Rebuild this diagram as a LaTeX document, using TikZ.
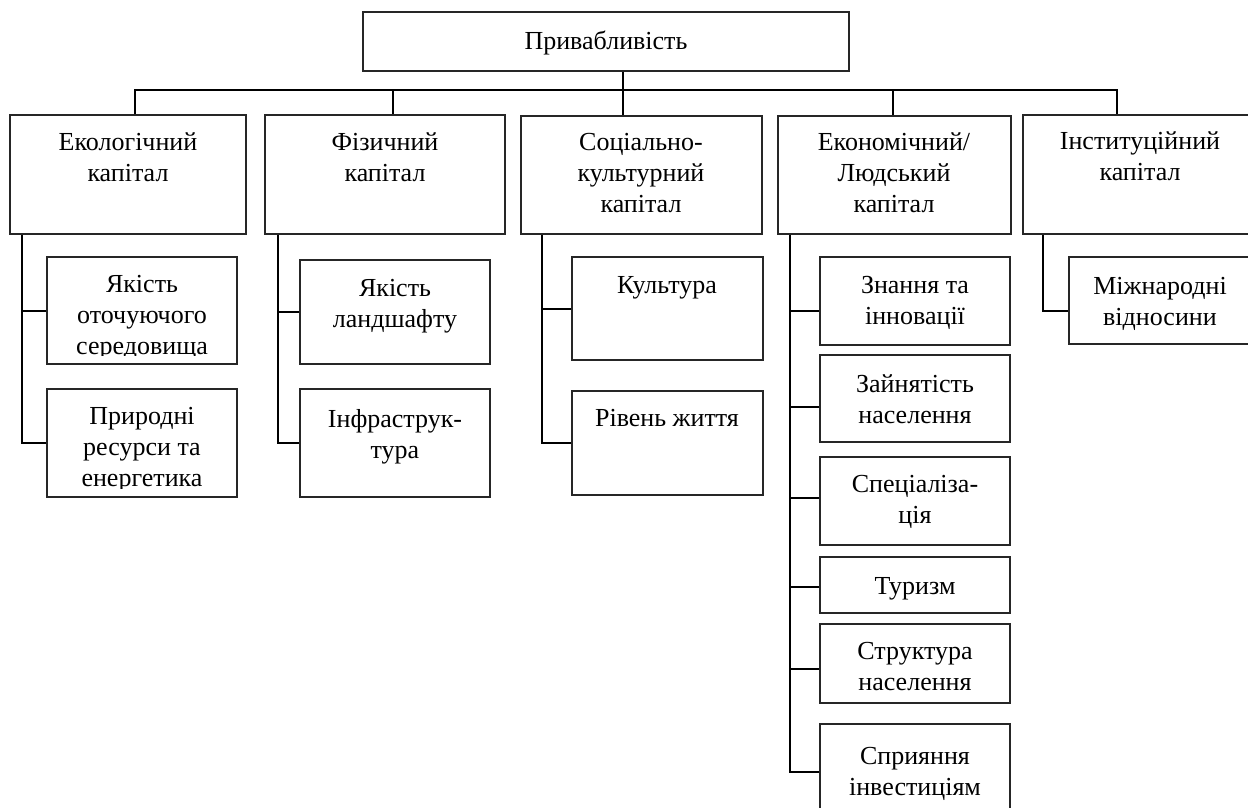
\documentclass[tikz,border=0pt]{standalone}
\usepackage{fontspec}
\setmainfont{Liberation Serif}
\usetikzlibrary{fit,calc}
\newcommand\fs{\rule{0pt}{20pt}}
\begin{document}
\begin{tikzpicture}[x=1pt,y=-1pt,
  box/.style={draw=black!85, line width=1.3pt, inner sep=0pt},
  conn/.style={draw=black, line width=2pt},
  lbl/.style={align=center, inner sep=0pt, anchor=north, font=\fontsize{26}{31}\selectfont}]
\useasboundingbox (0,0) rectangle (1248,808);
% top
\node[box, fit={(363,12) (849,71)}] (top) {};
\node[lbl] (topT) at (606,29) {\fs Привабливість};
% level 1
\node[box, fit={(10,115) (246,234)}] (eco) {};
\node[box, fit={(265,115) (505,234)}] (phys) {};
\node[box, fit={(521,116) (762,234)}] (soc) {};
\node[box, fit={(778,116) (1011,234)}] (econ) {};
\node[box, fit={(1023,115) (1258,234)}] (inst) {};
\node[lbl] (ecoT) at (128,130) {\fs Екологічний\\капітал};
\node[lbl] (physT) at (385,130) {\fs Фізичний\\капітал};
\node[lbl] (socT) at (641,130) {\fs Соціально-\\культурний\\капітал};
\node[lbl] (econT) at (894,130) {\fs Економічний/\\Людський\\капітал};
\node[lbl] (instT) at (1140,129) {\fs Інституційний\\капітал};
% bus
\coordinate (dEco) at (135,90);
\coordinate (dPhys) at (393,90);
\coordinate (dTop) at (623,90);
\coordinate (dEcon) at (893,90);
\coordinate (dInst) at (1117,90);
\draw[conn] (dEco |- eco.north) -- (dEco) -- (dInst) -- (dInst |- inst.north);
\draw[conn] (dPhys) -- (dPhys |- phys.north);
\draw[conn] (dTop |- top.south) -- (dTop |- soc.north);
\draw[conn] (dEcon) -- (dEcon |- econ.north);
% eco column
\node[box, fit={(47,257) (237,364)}] (eco1) {};
\node[box, fit={(47,389) (237,497)}] (eco2) {};
\begin{scope}
\clip (eco1.north west) rectangle ([yshift=9pt]eco1.south east);
\node[lbl] (eco1T) at (142,272) {\fs Якість\\оточуючого\\середовища};
\end{scope}
\begin{scope}
\clip (eco2.north west) rectangle ([yshift=9pt]eco2.south east);
\node[lbl] (eco2T) at (142,404) {\fs Природні\\ресурси та\\енергетика};
\end{scope}
\coordinate (vEco) at (22,0);
\draw[conn] (vEco |- eco.south) |- (eco2.west);
\draw[conn] (vEco |- eco1.west) -- (eco1.west);
% phys column
\node[box, fit={(300,260) (490,364)}] (phys1) {};
\node[box, fit={(300,389) (490,497)}] (phys2) {};
\node[lbl] (phys1T) at (395,276) {\fs Якість\\ландшафту};
\node[lbl] (phys2T) at (395,407) {\fs Інфраструк-\\тура};
\coordinate (vPhys) at (278,0);
\draw[conn] (vPhys |- phys.south) |- (phys2.west);
\draw[conn] (vPhys |- phys1.west) -- (phys1.west);
% social column
\node[box, fit={(572,257) (763,360)}] (soc1) {};
\node[box, fit={(572,391) (763,495)}] (soc2) {};
\node[lbl] (soc1T) at (667,273) {\fs Культура};
\node[lbl] (soc2T) at (667,406) {\fs Рівень життя};
\coordinate (vSoc) at (542,0);
\draw[conn] (vSoc |- soc.south) |- (soc2.west);
\draw[conn] (vSoc |- soc1.west) -- (soc1.west);
% econ column
\node[box, fit={(820,257) (1010,345)}] (ec1) {};
\node[box, fit={(820,355) (1010,442)}] (ec2) {};
\node[box, fit={(820,457) (1010,545)}] (ec3) {};
\node[box, fit={(820,557) (1010,613)}] (ec4) {};
\node[box, fit={(820,624) (1010,703)}] (ec5) {};
\node[box, fit={(820,724) (1010,830)}] (ec6) {};
\node[lbl] (ec1T) at (915,273) {\fs Знання та\\інновації};
\node[lbl] (ec2T) at (915,372) {\fs Зайнятість\\населення};
\node[lbl] (ec3T) at (915,472) {\fs Спеціаліза-\\ція};
\node[lbl] (ec4T) at (915,574) {\fs Туризм};
\node[lbl] (ec5T) at (915,639) {\fs Структура\\населення};
\node[lbl] (ec6T) at (915,744) {\fs Сприяння\\інвестиціям};
\coordinate (vEc) at (790,0);
\draw[conn] (vEc |- econ.south) |- ([yshift=-49pt]ec6.north west);
\draw[conn] (vEc |- 0,311) -- (ec1.west |- 0,311);
\draw[conn] (vEc |- 0,407) -- (ec2.west |- 0,407);
\draw[conn] (vEc |- 0,498) -- (ec3.west |- 0,498);
\draw[conn] (vEc |- 0,587) -- (ec4.west |- 0,587);
\draw[conn] (vEc |- 0,669) -- (ec5.west |- 0,669);
% inst column
\node[box, fit={(1069,257) (1258,344)}] (inst1) {};
\node[lbl] (inst1T) at (1160,274) {\fs Міжнародні\\відносини};
\coordinate (vInst) at (1043,0);
\draw[conn] (vInst |- inst.south) |- (inst1.west |- 0,311);
\end{tikzpicture}
\end{document}
